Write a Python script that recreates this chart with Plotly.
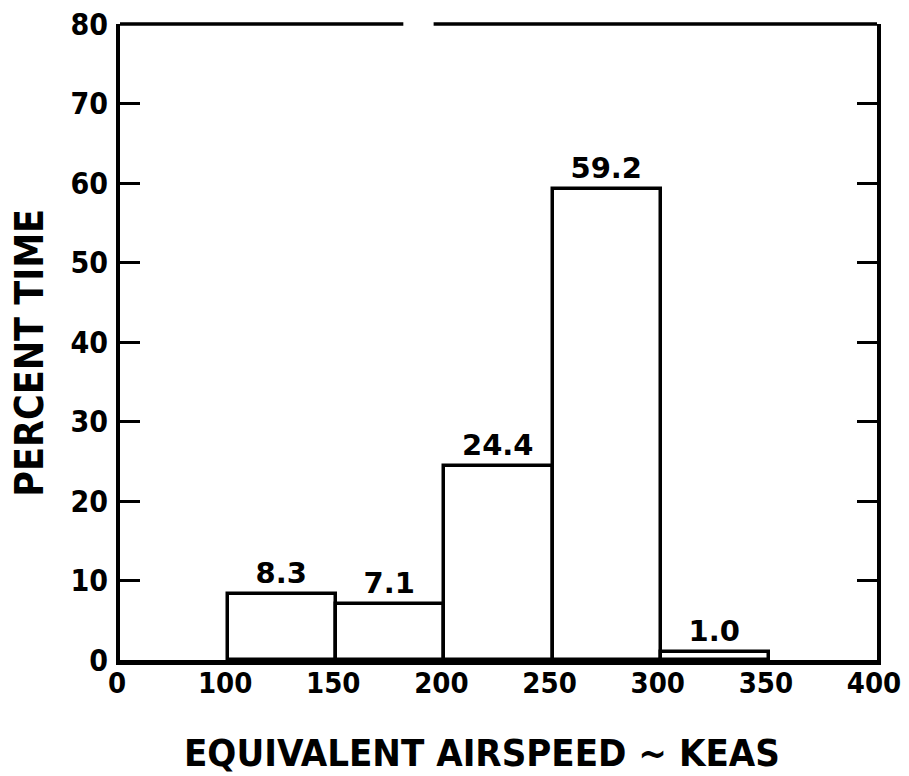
import plotly.graph_objects as go

bin_lo = [100, 150, 200, 250, 300]
bin_hi = [150, 200, 250, 300, 350]
percent_time = [8.3, 7.1, 24.4, 59.2, 1.0]
bar_labels = ["8.3", "7.1", "24.4", "59.2", "1.0"]
x_tick_vals = [50, 100, 150, 200, 250, 300, 350, 400]   # broken axis: first tick stands for 0
x_tick_text = ["0", "100", "150", "200", "250", "300", "350", "400"]
y_tick_vals = [0, 10, 20, 30, 40, 50, 60, 70, 80]

FONT = "DejaVu Sans Condensed"
centers = [(a + b) / 2 for a, b in zip(bin_lo, bin_hi)]
widths = [b - a for a, b in zip(bin_lo, bin_hi)]

fig = go.Figure()
fig.add_trace(go.Bar(
    x=centers, y=percent_time, width=widths,
    marker=dict(color="white", line=dict(color="black", width=3.5)),
    text=bar_labels, textposition="outside", cliponaxis=False,
    textfont=dict(family="DejaVu Sans", size=29, color="black", weight="bold"),
    hoverinfo="skip",
))

# top border with gap
fig.add_shape(type="line", xref="x", yref="paper", x0=50, x1=181, y0=1, y1=1,
              line=dict(color="black", width=3.5))
fig.add_shape(type="line", xref="x", yref="paper", x0=195, x1=400, y0=1, y1=1,
              line=dict(color="black", width=3.5))

# axis titles
fig.add_annotation(text="EQUIVALENT AIRSPEED ~ KEAS", xref="paper", yref="paper",
                   x=0.478, y=-0.146, xanchor="center", yanchor="middle", showarrow=False,
                   font=dict(family=FONT, size=38, color="black", weight="bold"))
fig.add_annotation(text="PERCENT TIME", xref="paper", yref="paper",
                   x=-0.119, y=0.483, xanchor="center", yanchor="middle", showarrow=False,
                   textangle=-90,
                   font=dict(family=FONT, size=39, color="black", weight="bold"))

fig.update_layout(
    width=909, height=776,
    margin=dict(l=120, r=32, t=24, b=116),
    paper_bgcolor="white", plot_bgcolor="white",
    showlegend=False, bargap=0,
    font=dict(family=FONT, color="black"),
)
fig.update_xaxes(
    range=[50, 400], tickvals=x_tick_vals, ticktext=x_tick_text, automargin=False,
    showgrid=False, zeroline=False, showline=True, linecolor="black", linewidth=5,
    ticks="", ticklabelstandoff=-7, ticklabelshift=-3, ticklabeloverflow="allow",
    tickfont=dict(family=FONT, size=29, color="black", weight="bold"),
)
fig.update_yaxes(
    range=[0, 80], tickvals=y_tick_vals, automargin=False,
    showgrid=False, zeroline=False, showline=True, linecolor="black", linewidth=4,
    mirror="ticks", ticks="inside", ticklen=20, tickwidth=3, tickcolor="black",
    ticklabelstandoff=2, ticklabeloverflow="allow",
    tickfont=dict(family=FONT, size=30, color="black", weight="bold"),
)

fig.write_html("out.html", config={"displayModeBar": False},
               post_script="document.body.style.margin='0';document.body.style.overflow='hidden';")
